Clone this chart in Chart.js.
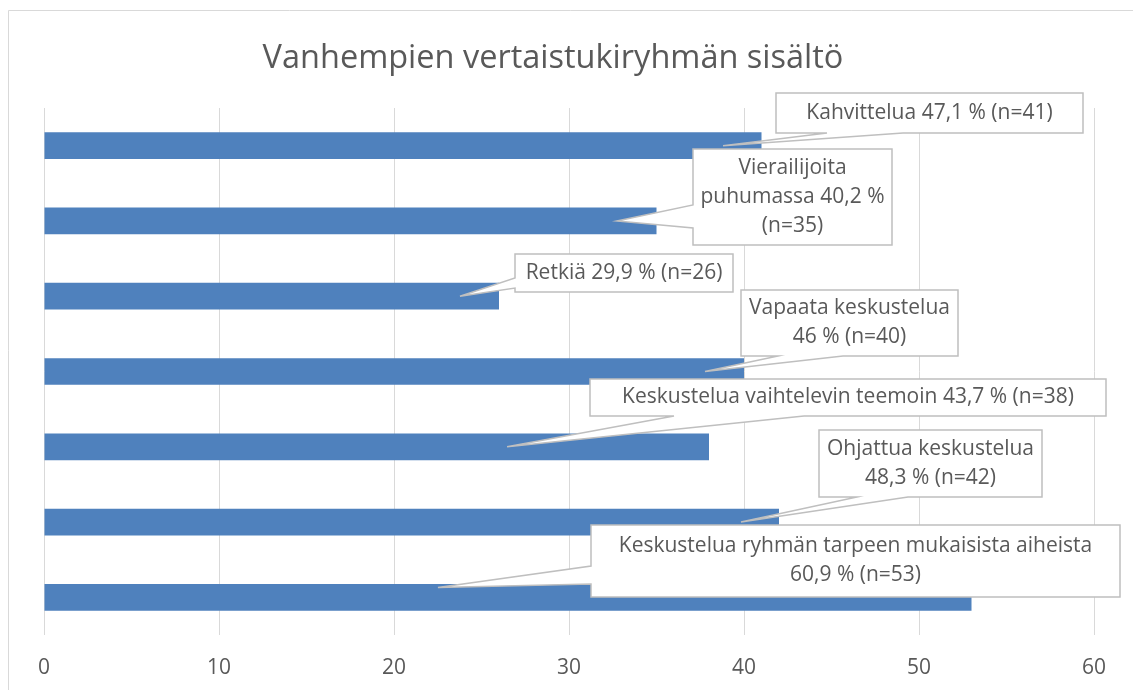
<!DOCTYPE html>
<html><head><meta charset="utf-8">
<script src="https://cdn.jsdelivr.net/npm/chart.js@4"></script>
<style>html,body{margin:0;padding:0;background:#fff;overflow:hidden}#wrap{width:1133px;height:690px;position:relative}</style>
</head><body><div id="wrap"><canvas id="c"></canvas></div>
<script>
const chartTitle = 'Vanhempien vertaistukiryhmän sisältö';
const categories = ['Kahvittelua', 'Vierailijoita puhumassa', 'Retkiä', 'Vapaata keskustelua',
  'Keskustelua vaihtelevin teemoin', 'Ohjattua keskustelua', 'Keskustelua ryhmän tarpeen mukaisista aiheista'];
const counts = [41, 35, 26, 40, 38, 42, 53];
const percents = ['47,1', '40,2', '29,9', '46', '43,7', '48,3', '60,9'];
const tickValues = [0, 10, 20, 30, 40, 50, 60];
const labelLines = [
  ['Kahvittelua 47,1 % (n=41)'],
  ['Vierailijoita', 'puhumassa 40,2 %', '(n=35)'],
  ['Retkiä 29,9 % (n=26)'],
  ['Vapaata keskustelua', '46 % (n=40)'],
  ['Keskustelua vaihtelevin teemoin 43,7 % (n=38)'],
  ['Ohjattua keskustelua', '48,3 % (n=42)'],
  ['Keskustelua ryhmän tarpeen mukaisista aiheista', '60,9 % (n=53)']
];
// callout tip positions in data units (value along x, offset in category units)
const tipValues = [38.8, 32.74, 23.77, 37.77, 26.46, 39.83, 22.51];
const tipOffsets = [0, 0, 0, 0, 0, 0, -0.13];

// layout of callout boxes (pixels): [left, top, right, bottom], tail side, tail base
const calloutLayout = [
  {box: [776, 93, 1083, 133], side: 'bottom', base: [827, 903]},
  {box: [693, 149, 892, 245], side: 'left', base: [205, 228]},
  {box: [515, 254, 733, 292], side: 'left', base: [278, 288]},
  {box: [741, 290, 958, 356], side: 'bottom', base: [778, 843]},
  {box: [590, 379, 1106, 416], side: 'bottom', base: [674, 804]},
  {box: [819, 430, 1042, 497], side: 'bottom', base: [857, 908]},
  {box: [591, 525, 1120, 597], side: 'left', base: [566, 584]}
];

const TEXT = '#595959';
const FONT = '"Open Sans", "Noto Sans", sans-serif';

const deco = {
  id: 'deco',
  beforeDraw(chart) {
    const ctx = chart.ctx;
    ctx.save();
    ctx.fillStyle = '#fff';
    ctx.fillRect(0, 0, chart.width, chart.height);
    ctx.strokeStyle = '#d9d9d9';
    ctx.lineWidth = 1;
    ctx.beginPath();
    ctx.moveTo(8.5, chart.height);
    ctx.lineTo(8.5, 10.5);
    ctx.lineTo(chart.width, 10.5);
    ctx.stroke();
    ctx.fillStyle = TEXT;
    ctx.font = '32.5px ' + FONT;
    ctx.textAlign = 'center';
    ctx.textBaseline = 'alphabetic';
    ctx.fillText(chartTitle, 553, 68);
    ctx.restore();
  },
  afterDraw(chart) {
    const ctx = chart.ctx;
    const xs = chart.scales.x, ys = chart.scales.y;
    ctx.save();
    calloutLayout.forEach((c, i) => {
      const [l, t, r, b] = c.box;
      const tx = xs.getPixelForValue(tipValues[i]);
      const ty = ys.getPixelForValue(i + tipOffsets[i]);
      ctx.beginPath();
      ctx.moveTo(l, t);
      ctx.lineTo(r, t);
      ctx.lineTo(r, b);
      if (c.side === 'bottom') {
        ctx.lineTo(c.base[1], b);
        ctx.lineTo(tx, ty);
        ctx.lineTo(c.base[0], b);
      }
      ctx.lineTo(l, b);
      if (c.side === 'left') {
        ctx.lineTo(l, c.base[1]);
        ctx.lineTo(tx, ty);
        ctx.lineTo(l, c.base[0]);
      }
      ctx.closePath();
      ctx.fillStyle = '#fff';
      ctx.fill();
      ctx.strokeStyle = '#bfbfbf';
      ctx.lineWidth = 1.5;
      ctx.lineJoin = 'miter';
      ctx.stroke();
      const lines = labelLines[i];
      const lh = 29;
      const cx = (l + r) / 2, cy = (t + b) / 2;
      ctx.fillStyle = TEXT;
      ctx.font = '21px ' + FONT;
      ctx.textAlign = 'center';
      ctx.textBaseline = 'middle';
      lines.forEach((s, k) => {
        ctx.fillText(s, cx, cy + (k - (lines.length - 1) / 2) * lh);
      });
    });
    ctx.restore();
  }
};

new Chart(document.getElementById('c'), {
  type: 'bar',
  data: {
    labels: categories,
    datasets: [{
      data: counts,
      backgroundColor: '#4f81bd',
      borderWidth: 0,
      barPercentage: 0.355,
      categoryPercentage: 1
    }]
  },
  options: {
    indexAxis: 'y',
    responsive: true,
    maintainAspectRatio: false,
    animation: false,
    layout: {padding: {left: 44, right: 39, top: 108, bottom: 0}},
    plugins: {legend: {display: false}, tooltip: {enabled: false}, title: {display: false}},
    scales: {
      x: {
        min: 0, max: 60,
        afterBuildTicks: axis => { axis.ticks = tickValues.map(v => ({value: v})); },
        afterFit: axis => { axis.height = 55; },
        grid: {color: '#d9d9d9', lineWidth: 1, drawTicks: false},
        border: {display: false},
        ticks: {color: TEXT, font: {family: FONT, size: 21}, padding: 20}
      },
      y: {display: false}
    }
  },
  plugins: [deco]
});
</script></body></html>
